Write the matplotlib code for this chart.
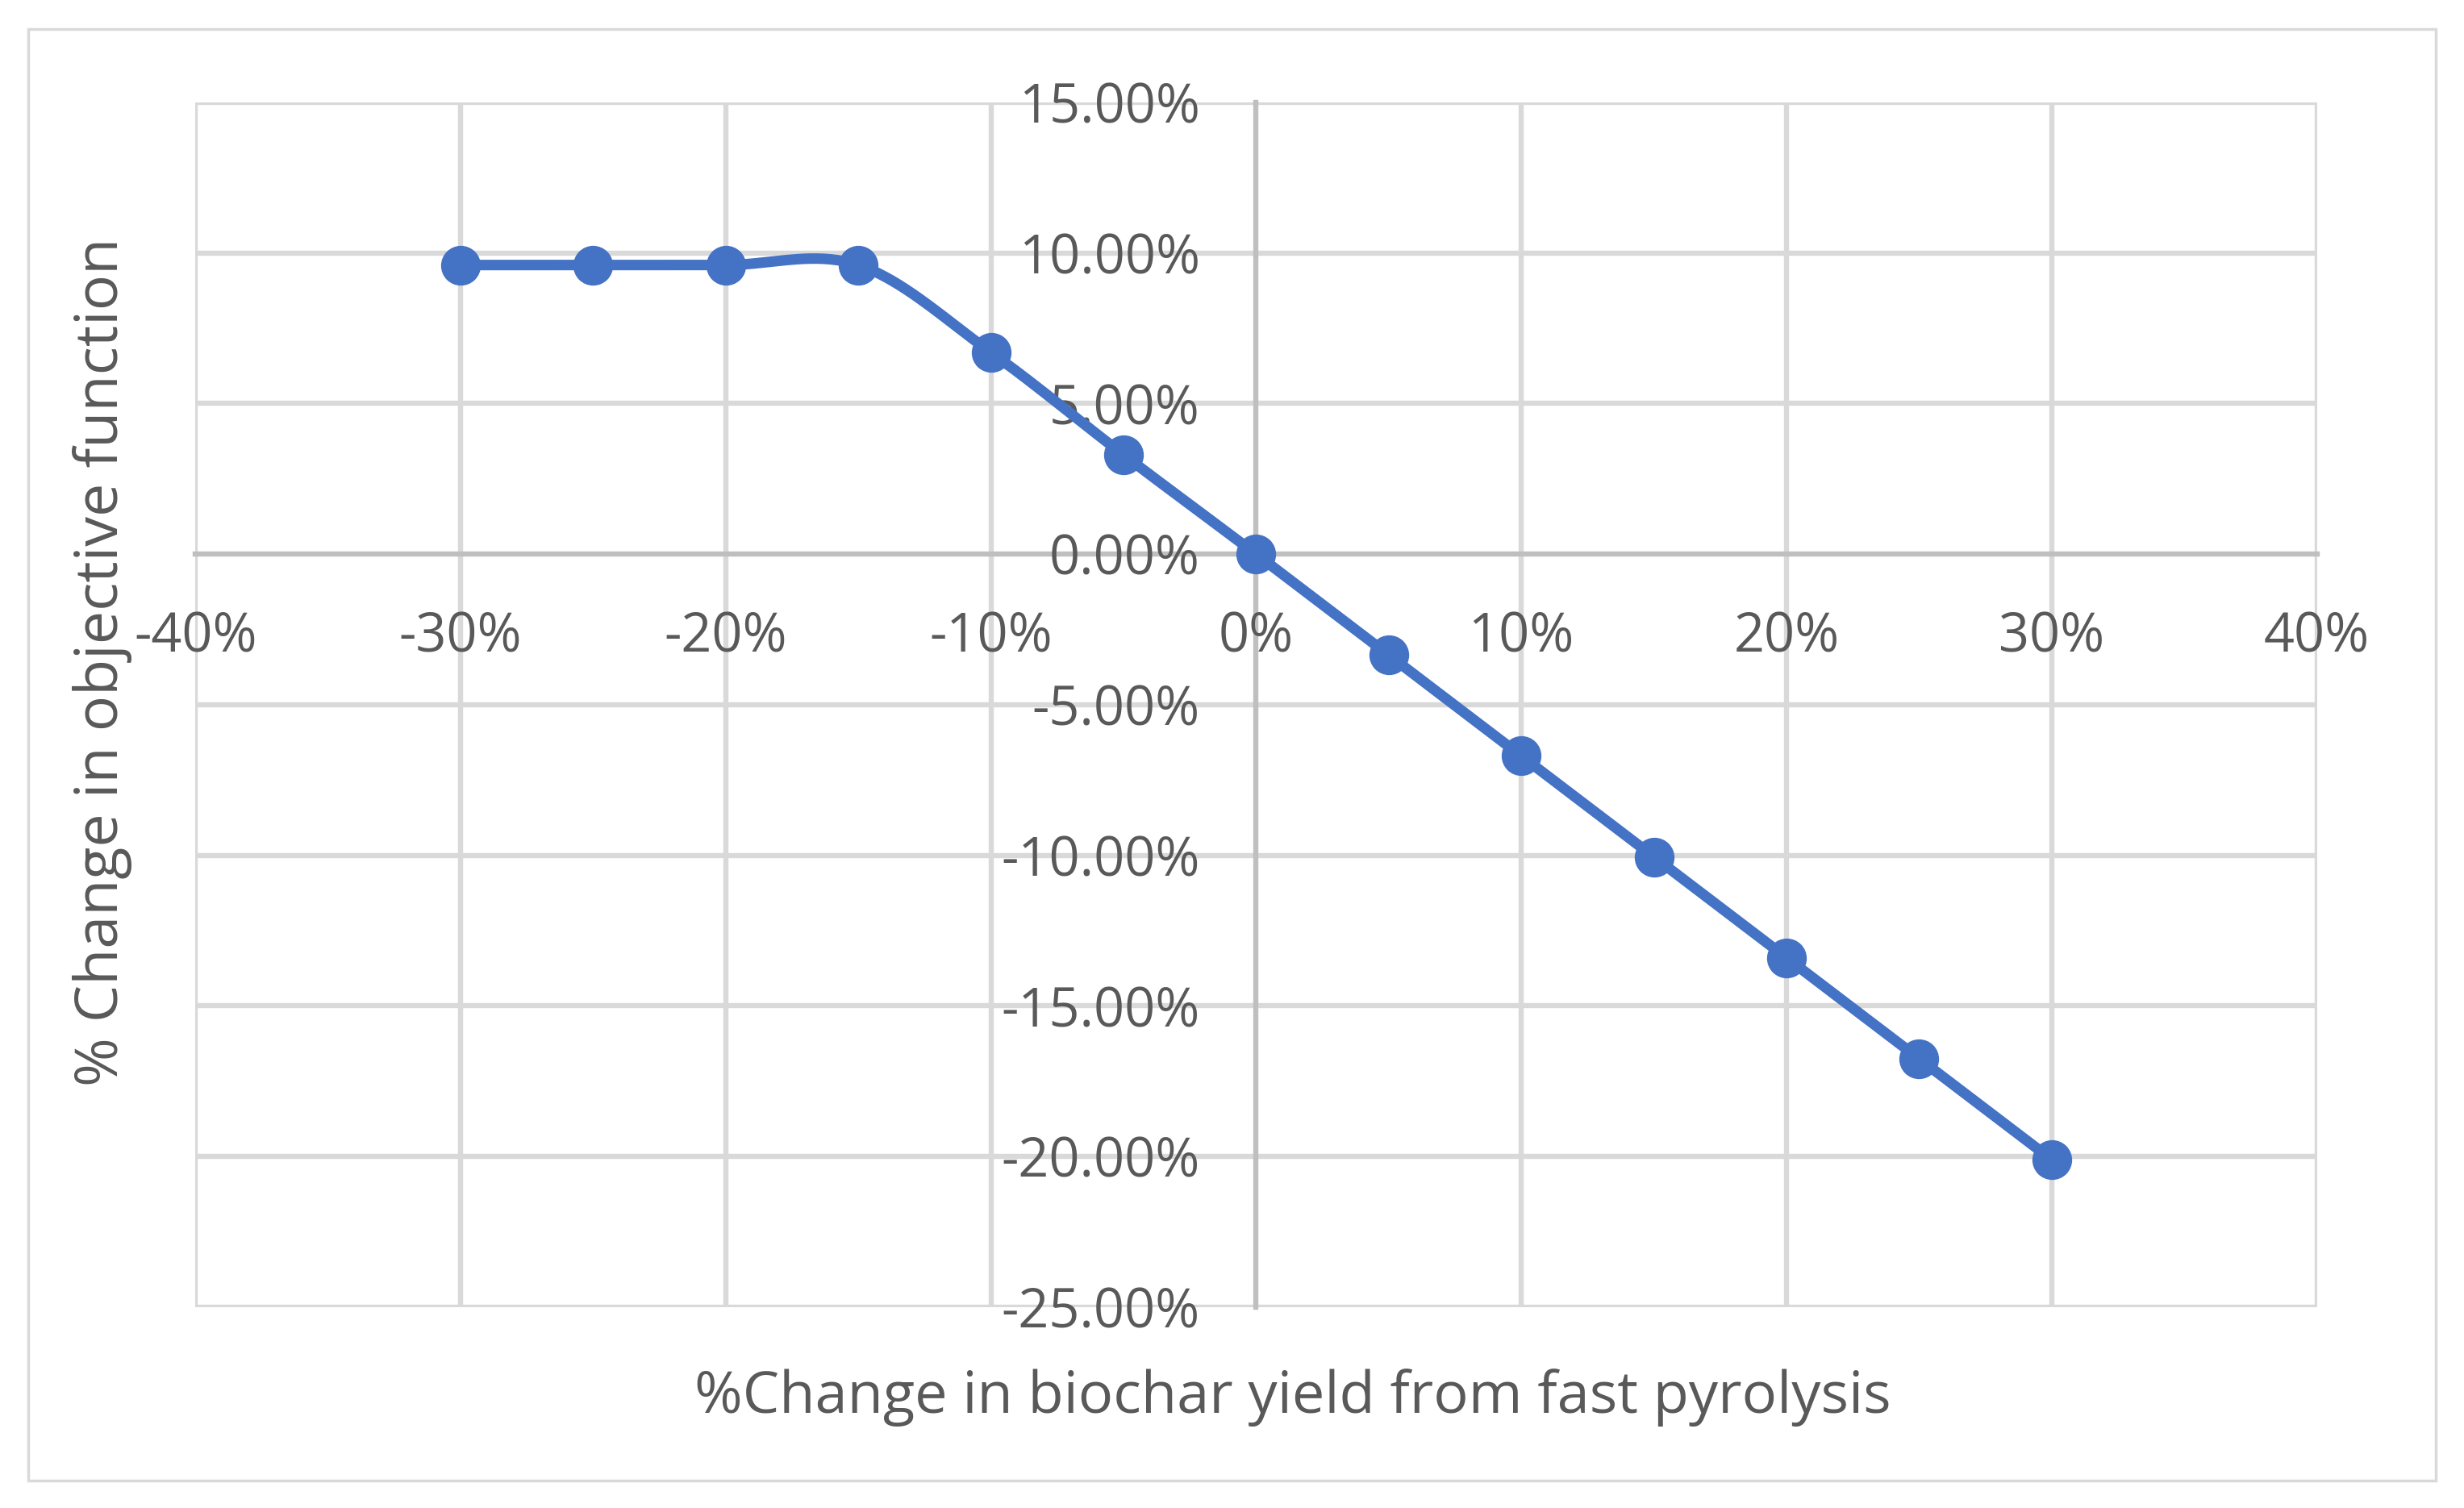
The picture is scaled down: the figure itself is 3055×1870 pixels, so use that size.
import numpy as np
import matplotlib
matplotlib.use("Agg")
import matplotlib.pyplot as plt
from matplotlib.patches import Rectangle

x_change = [-30, -25, -20, -15, -10, -5, 0, 5, 10, 15, 20, 25, 30]
obj_change = [9.6, 9.6, 9.6, 9.6, 6.7, 3.3, 0.0, -3.35, -6.7, -10.05, -13.4, -16.75, -20.1]
x_ticks = [-40, -30, -20, -10, 0, 10, 20, 30, 40]
y_ticks = [-25, -20, -15, -10, -5, 0, 5, 10, 15]
x_label = "%Change in biochar yield from fast pyrolysis"
y_label = "% Change in objective function"

plt.rcParams['font.family'] = ['Open Sans', 'DejaVu Sans']

def excel_smooth(xs, ys, n=40):
    xs = np.asarray(xs, float); ys = np.asarray(ys, float)
    P = np.column_stack([xs, ys])
    out = []
    for i in range(len(P) - 1):
        p0 = P[i - 1] if i > 0 else P[i]
        p1 = P[i]; p2 = P[i + 1]
        p3 = P[i + 2] if i + 2 < len(P) else P[i + 1]
        c1 = p1 + (p2 - p0) / 6.0
        c2 = p2 - (p3 - p1) / 6.0
        t = np.linspace(0, 1, n)[:, None]
        seg = (1 - t) ** 3 * p1 + 3 * (1 - t) ** 2 * t * c1 + 3 * (1 - t) * t ** 2 * c2 + t ** 3 * p2
        out.append(seg if i == 0 else seg[1:])
    s = np.vstack(out)
    return s[:, 0], s[:, 1]

fig = plt.figure(figsize=(30.55, 18.70), dpi=100)
fig.patches.append(Rectangle((0.0115, 0.018), 0.977, 0.963, transform=fig.transFigure,
                             fill=False, edgecolor='#D9D9D9', linewidth=2.5))
ax = fig.add_axes([0.0793, 0.1332, 0.8610, 0.7989])
ax.set_xlim(-40, 40)
ax.set_ylim(-25, 15)

grid_c = '#D9D9D9'
axis_c = '#BFBFBF'
text_c = '#595959'

for xv in x_ticks:
    if xv != 0:
        ax.axvline(xv, color=grid_c, lw=4.6, zorder=1)
for yv in y_ticks:
    if yv != 0:
        ax.axhline(yv, color=grid_c, lw=4.6, zorder=1)

for s in ['top', 'right']:
    ax.spines[s].set_visible(False)
ax.spines['left'].set_position(('data', 0))
ax.spines['bottom'].set_position(('data', 0))
ax.spines['left'].set_color(axis_c)
ax.spines['bottom'].set_color(axis_c)
ax.spines['left'].set_linewidth(4.6)
ax.spines['bottom'].set_linewidth(4.6)
ax.spines['left'].set_zorder(1.5)
ax.spines['bottom'].set_zorder(1.5)

ax.set_xticks(x_ticks)
ax.set_xticklabels([f"{v}%" for v in x_ticks])
ax.set_yticks(y_ticks)
ax.set_yticklabels([f"{v:.2f}%" for v in y_ticks])
ax.tick_params(axis='x', length=0, pad=50, labelsize=48, labelcolor=text_c)
ax.tick_params(axis='y', length=0, pad=50, labelsize=48, labelcolor=text_c)

sx, sy = excel_smooth(x_change, obj_change)
ax.plot(sx, sy, color='#4472C4', lw=9.4, zorder=3, solid_capstyle='round')
ax.plot(x_change, obj_change, 'o', color='#4472C4', markersize=34.5, zorder=4)

fig.text(0.5245, 0.073, x_label, ha='center', va='center', fontsize=52, color=text_c)
fig.text(0.0415, 0.561, y_label, ha='center', va='center', fontsize=53, color=text_c, rotation=90)

fig.savefig("out.png", dpi=100, facecolor='white')
